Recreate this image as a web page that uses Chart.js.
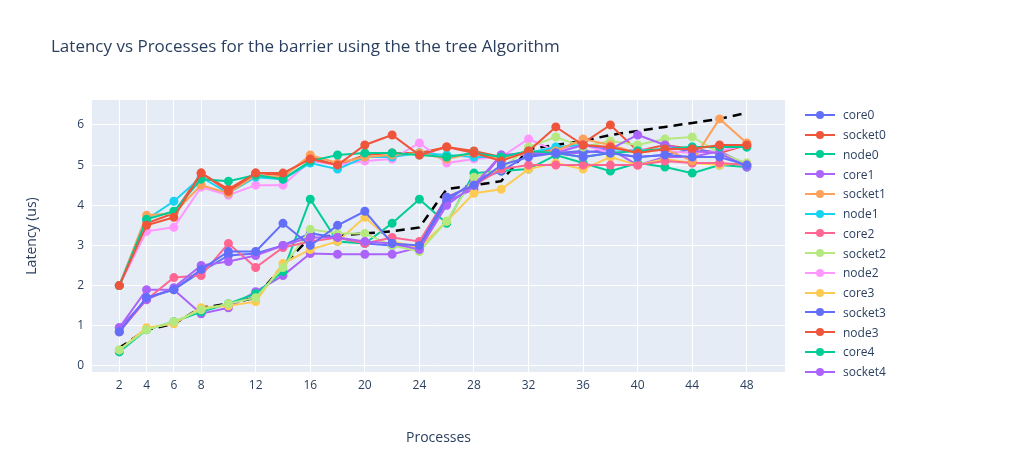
<!DOCTYPE html>
<html><head><meta charset="utf-8">
<script src="https://cdn.jsdelivr.net/npm/chart.js@4"></script>
<style>
body{margin:0;background:#fff;font-family:"Open Sans",sans-serif}
#wrap{position:relative;width:1010px;height:450px}
#title{position:absolute;left:51px;top:34px;font-size:17px;color:#2a3f5f}
#legend{position:absolute;left:805px;top:105px;font-size:12px;color:#2a3f5f}
.item{height:19.75px;display:flex;align-items:center}
.sw{position:relative;width:30px;height:2px;margin-right:8px}
.sw i{position:absolute;left:11px;top:-3px;width:8px;height:8px;border-radius:50%}
</style></head>
<body><div id="wrap"><canvas id="c" width="1010" height="450"></canvas>
<div id="title">Latency vs Processes for the barrier using the the tree Algorithm</div>
<div id="legend"></div></div>
<script>
const processes = [2,4,6,8,10,12,14,16,18,20,22,24,26,28,30,32,34,36,38,40,42,44,46,48];
const tickValues = [2,4,6,8,12,16,20,24,28,32,36,40,44,48];
const seriesNames = ["core0","socket0","node0","core1","socket1","node1","core2","socket2","node2","core3","socket3","node3","core4","socket4"];
const colors = ["#636efa","#EF553B","#00cc96","#ab63fa","#FFA15A","#19d3f3","#FF6692","#B6E880","#FF97FF","#FECB52","#636efa","#EF553B","#00cc96","#ab63fa"];

const core0 = [0.85,1.7,1.9,2.4,2.85,2.85,3.55,3.0,3.5,3.85,3.05,3.0,4.2,4.5,5.0,5.2,5.3,5.2,5.3,5.2,5.25,5.2,5.2,5.0];
const socket0 = [2.0,3.5,3.7,4.8,4.35,4.8,4.8,5.15,5.0,5.5,5.75,5.25,5.45,5.3,5.1,5.35,5.95,5.5,5.45,5.3,5.4,5.4,5.5,5.5];
const node0 = [2.0,3.65,3.85,4.65,4.6,4.75,4.65,5.1,5.25,5.3,5.3,5.25,5.2,5.3,5.2,5.35,5.3,5.2,5.3,5.35,5.4,5.45,5.45,5.45];
const core1 = [0.95,1.65,1.95,2.5,2.6,2.75,3.0,3.2,3.2,3.1,3.05,2.9,4.0,4.5,5.25,5.3,5.3,5.5,5.4,5.75,5.5,5.35,5.3,4.95];
const socket1 = [2.0,3.75,3.8,4.5,4.3,4.75,4.7,5.25,5.05,5.2,5.25,5.3,5.15,5.3,5.15,5.3,5.35,5.65,5.5,5.3,5.4,5.1,6.15,5.55];
const node1 = [2.0,3.65,4.1,4.7,4.3,4.7,4.65,5.05,4.9,5.2,5.2,5.3,5.25,5.2,5.2,5.3,5.45,5.5,5.4,5.35,5.4,5.45,5.45,5.45];
const core2 = [0.85,1.65,2.2,2.25,3.05,2.45,2.95,3.1,3.2,3.05,3.2,3.1,4.2,4.5,4.9,5.0,5.0,5.0,5.0,5.0,5.1,5.05,5.05,5.0];
const socket2 = [0.4,0.9,1.1,1.4,1.55,1.7,2.45,3.4,3.3,3.3,3.0,2.85,3.6,4.7,4.9,5.45,5.7,5.45,5.6,5.5,5.65,5.7,5.3,5.05];
const node2 = [2.0,3.35,3.45,4.45,4.25,4.5,4.5,5.1,5.0,5.1,5.15,5.55,5.05,5.15,5.2,5.65,5.35,5.5,5.3,5.4,5.35,5.3,5.35,5.5];
const core3 = [0.4,0.95,1.05,1.45,1.5,1.6,2.55,2.9,3.1,3.7,3.1,2.95,3.6,4.3,4.4,4.9,5.05,4.9,5.2,5.0,5.15,5.05,5.0,5.05];
const socket3 = [0.85,1.7,1.9,2.35,2.75,2.8,3.0,3.3,3.2,3.05,3.0,3.0,4.1,4.6,4.85,5.25,5.3,5.35,5.3,5.2,5.25,5.4,5.3,5.0];
const node3 = [2.0,3.55,3.8,4.8,4.4,4.8,4.75,5.2,5.0,5.25,5.3,5.3,5.45,5.35,5.2,5.3,5.4,5.55,6.0,5.35,5.5,5.4,5.3,5.5];
const core4 = [0.35,0.9,1.1,1.35,1.55,1.8,2.35,4.15,3.1,3.05,3.55,4.15,3.55,4.8,4.85,4.9,5.25,5.05,4.85,5.05,4.95,4.8,5.0,4.95];
const socket4 = [0.95,1.9,1.9,1.3,1.45,1.85,2.25,2.8,2.78,2.78,2.78,2.95,4.1,4.4,5.25,5.25,5.3,5.3,5.4,5.0,5.2,5.2,5.35,5.0];
const model = [0.45,0.9,1.05,1.45,1.55,1.7,2.5,3.2,3.25,3.3,3.35,3.45,4.4,4.5,4.6,5.4,5.5,5.6,5.75,5.85,5.95,6.05,6.15,6.3];

const allSeries = [core0,socket0,node0,core1,socket1,node1,core2,socket2,node2,core3,socket3,node3,core4,socket4];

const datasets = allSeries.map((s, i) => ({
  label: seriesNames[i],
  data: processes.map((p, j) => ({x: p, y: s[j]})),
  borderColor: colors[i], backgroundColor: colors[i],
  borderWidth: 2, pointRadius: 3.5, pointHoverRadius: 3.5
}));
datasets.push({
  label: "model",
  data: processes.map((p, j) => ({x: p, y: model[j]})),
  borderColor: "#000", borderWidth: 2.5, borderDash: [9, 6], pointRadius: 0
});

// legend
const leg = document.getElementById("legend");
seriesNames.forEach((n, i) => {
  leg.innerHTML += `<div class="item"><div class="sw" style="background:${colors[i]}"><i style="background:${colors[i]}"></i></div>${n}</div>`;
});

const bg = {
  id: "bg",
  beforeDraw(chart) {
    const a = chart.chartArea, c = chart.ctx;
    c.save(); c.fillStyle = "#E5ECF6"; c.fillRect(a.left, a.top, a.right - a.left, a.bottom - a.top); c.restore();
  }
};

const font = {family: "'Open Sans', sans-serif", size: 12};
new Chart(document.getElementById("c"), {
  type: "line",
  data: {datasets},
  plugins: [bg],
  options: {
    responsive: false, animation: false,
    layout: {padding: {left: 20, right: 225, top: 100, bottom: 0}},
    plugins: {legend: {display: false}, tooltip: {enabled: false}},
    scales: {
      x: {
        type: "linear", min: 0, max: 50.8,
        afterBuildTicks: ax => { ax.ticks = tickValues.map(v => ({value: v})); },
        afterFit: ax => { ax.height = 78; },
        grid: {color: "#fff", lineWidth: 1, drawTicks: false},
        border: {display: false},
        ticks: {color: "#2a3f5f", font, padding: 6, maxRotation: 0},
        title: {display: true, text: "Processes", color: "#2a3f5f", font: {family: font.family, size: 14}, padding: {top: 10}}
      },
      y: {
        min: -0.15, max: 6.62,
        afterBuildTicks: ax => { ax.ticks = [0,1,2,3,4,5,6].map(v => ({value: v})); },
        afterFit: ax => { ax.width = 72; },
        grid: {color: "#fff", lineWidth: 1, drawTicks: false},
        border: {display: false},
        ticks: {color: "#2a3f5f", font, padding: 8},
        title: {display: true, text: "Latency (us)", color: "#2a3f5f", font: {family: font.family, size: 14}}
      }
    }
  }
});
</script></body></html>
